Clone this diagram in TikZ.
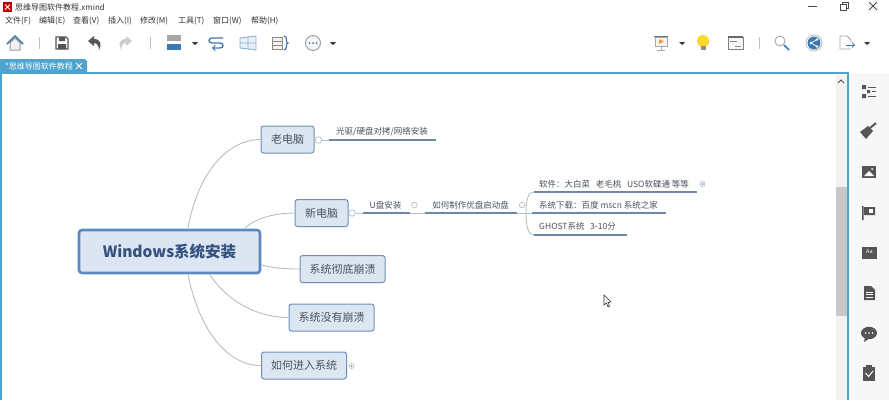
\documentclass[tikz,border=0pt]{standalone}
\usepackage{fontspec}
\setmainfont{Noto Sans CJK SC}
\usepackage{tikz}
\usetikzlibrary{shapes}
\usetikzlibrary{calc}
\definecolor{topic_fill}{HTML}{DCE6F3}
\definecolor{topic_line}{HTML}{6F8DB5}
\definecolor{main_line}{HTML}{5F87C0}
\definecolor{main_text}{HTML}{35527F}
\definecolor{text_grey}{HTML}{4A5260}
\definecolor{branch_line}{HTML}{B4BEC8}
\definecolor{under_line}{HTML}{6C88A8}
\definecolor{frame_blue}{HTML}{4FA3CC}
\definecolor{icon_grey}{HTML}{555555}
\definecolor{icon_blue}{HTML}{3E78B2}
\tikzset{ main_topic/.style = {rectangle, rounded corners=3pt, draw=main_line, line width=2.6pt, fill=topic_fill, text=main_text, font=\fontsize{15.5}{18}\selectfont\bfseries, minimum width=181pt, minimum height=43pt, inner sep=0pt} }
\tikzset{ topic/.style = {rectangle, rounded corners=2.5pt, draw=topic_line, line width=1pt, fill=topic_fill, text=text_grey, font=\fontsize{11}{13}\selectfont, minimum height=27pt, inner sep=0pt} }
\tikzset{ leaf/.style = {text=text_grey, font=\fontsize{8.5}{10}\selectfont, inner sep=0pt} }
\tikzset{ menu_item/.style = {text=black!80, font=\fontsize{8}{10}\selectfont, inner sep=0pt} }
\tikzset{ fold/.style = {circle, draw=branch_line, fill=white, line width=0.7pt, minimum size=6.5pt, inner sep=0pt} }
\tikzset{ branch/.style = {draw=branch_line, line width=0.9pt} }
\tikzset{ under/.style = {draw=under_line, line width=1.5pt} }
\tikzset{ drop_tip/.style = {fill=black!80, draw=none} }
\tikzset{ side_icon/.style = {fill=icon_grey, draw=none} }
\begin{document}
\begin{tikzpicture}[x=1pt,y=-1pt]
\useasboundingbox (0,0) rectangle (889,400);
\fill[white] (0,0) rectangle (889,400);
\fill[black!3] (849,73) rectangle (889,400);
\fill[black!5] (836,75) rectangle (847,400);
\fill[black!22] (836,187) rectangle (847,316);
\fill[frame_blue] (0,59) -- (85,59) -- (87,61) -- (87,72) -- (0,72) -- cycle;
\draw[frame_blue, line width=1.5pt] (1,400) -- (1,73) -- (848,73) -- (848,400);
\draw[black!70, line width=0.8pt] (838,83) -- (841,80) -- (844,83);

\fill[red!75!black] (3,2) rectangle (12,12);
\draw[white, line width=1pt] (5,4.5) -- (10,9.5) (5,9.5) -- (10,4.5);
\node[menu_item, anchor=west] (file_title) at (15,7) {思维导图软件教程.xmind};
\node[menu_item, anchor=west] (menu_file) at (5,21) {文件(F)};
\node[menu_item, anchor=west] (menu_edit) at (39,21) {编辑(E)};
\node[menu_item, anchor=west] (menu_view) at (73,21) {查看(V)};
\node[menu_item, anchor=west] (menu_insert) at (108,21) {插入(I)};
\node[menu_item, anchor=west] (menu_modify) at (140,21) {修改(M)};
\node[menu_item, anchor=west] (menu_tools) at (178,21) {工具(T)};
\node[menu_item, anchor=west] (menu_window) at (213,21) {窗口(W)};
\node[menu_item, anchor=west] (menu_help) at (251,21) {帮助(H)};
\node[menu_item, anchor=west, text=white] (tab_title) at (5,66) {*思维导图软件教程};
\draw[white, line width=1pt] (76,63) -- (82,69) (76,69) -- (82,63);

\draw[black!70, line width=1pt] (808,6) -- (817,6);
\draw[black!70, line width=0.8pt] (840,4) rectangle (846,10) (842,4) -- (842,2.5) -- (848,2.5) -- (848,8) -- (846,8);
\draw[black!70, line width=0.8pt] (869,2) -- (877,10) (869,10) -- (877,2);

\draw[icon_blue, line width=1.6pt, line join=round] (7,44) -- (15,36) -- (23,44);
\draw[black!40, line width=1pt, fill=black!5] (10,43) -- (10,50) -- (20,50) -- (20,43) -- (15,38) -- cycle;
\draw[black!25, line width=1pt] (39,37) -- (39,49);
\draw[icon_grey, line width=1.3pt] (56,37) -- (66,37) -- (68,39) -- (68,49) -- (56,49) -- cycle;
\fill[icon_grey] (59,37) rectangle (65,41) (58,44) rectangle (66,49);
\fill[icon_grey] (88,41) -- (94,36) -- (94,39) .. controls (101,39) and (102,45) .. (99,50) .. controls (99,46) and (97,43) .. (94,43) -- (94,46) -- cycle;
\fill[black!20] (132,41) -- (126,36) -- (126,39) .. controls (119,39) and (118,45) .. (121,50) .. controls (121,46) and (123,43) .. (126,43) -- (126,46) -- cycle;
\draw[black!25, line width=1pt] (150,37) -- (150,49);
\fill[black!35] (167,35) rectangle (181,41);
\fill[icon_blue] (167,44) rectangle (181,50);
\fill[drop_tip] (192,42) -- (198,42) -- (195,45) -- cycle;
\draw[icon_blue, line width=1.3pt, ->] (223,38) -- (212,38) .. controls (208,38) and (208,43) .. (212,43) -- (220,43) .. controls (224,43) and (224,48) .. (220,48) -- (212,48);
\draw[icon_blue!60, line width=0.9pt, fill=icon_blue!12] (240,38) -- (256,36) -- (256,50) -- (240,48) -- cycle (240,43) -- (256,43) (248,37) -- (248,49);
\draw[black!45, line width=0.9pt, fill=black!5] (272,37) rectangle (282,41) (272,41) rectangle (282,45) (272,45) rectangle (282,49);
\draw[icon_blue, line width=1.2pt] (284,36) .. controls (288,36) and (285,43) .. (288,43) .. controls (285,43) and (288,50) .. (284,50);
\draw[black!40, line width=0.9pt, fill=black!4] (313,43) circle (7.5);
\foreach \px in {309.5,313,316.5} { \fill[icon_blue] (\px,43) circle (1); }
\fill[drop_tip] (330,42) -- (336,42) -- (333,45) -- cycle;

\draw[black!55, line width=1.2pt] (654,36.5) -- (668,36.5);
\draw[black!35, line width=0.8pt, fill=black!3] (655,37) rectangle (667,46) (661,46) -- (661,50) (657,50) -- (665,50);
\fill[orange!80] (659,39) -- (664,41.5) -- (659,44) -- cycle;
\fill[drop_tip] (679,42) -- (685,42) -- (682,45) -- cycle;
\fill[yellow!70!orange!85!white] (703,41) circle (6);
\fill[black!45] (700.5,46) rectangle (705.5,50);
\draw[black!50, line width=0.8pt, fill=black!3] (728,37) rectangle (743,49);
\draw[black!60, line width=1.2pt] (728,37) -- (743,37);
\draw[black!45, line width=0.8pt] (730,41) -- (737,41) (735,46) -- (741,46);
\draw[black!25, line width=1pt] (759,37) -- (759,49);
\draw[black!35, line width=0.9pt] (780,41) circle (5);
\draw[icon_blue, line width=1.6pt] (784,45) -- (789,50);
\draw[black!25, line width=0.8pt] (814,43) circle (8);
\fill[icon_blue] (814,43) circle (6.5);
\draw[white, line width=0.7pt] (817,39.5) -- (811,43) -- (817,46.5);
\fill[white] (817,39.5) circle (1.3) (811,43) circle (1.3) (817,46.5) circle (1.3);
\draw[black!35, line width=0.8pt] (851,49) -- (840,49) -- (840,36) -- (847,36) -- (851,40) -- (851,42);
\draw[icon_blue, line width=1pt, ->] (846,45) -- (855,45);
\fill[drop_tip] (864,42) -- (870,42) -- (867,45) -- cycle;

\fill[side_icon] (862,85) rectangle (866,89) (867,90) rectangle (870,93) (862,94) rectangle (866,98);
\draw[icon_grey, line width=1pt] (868,87) -- (876,87) (872,91.5) -- (876,91.5) (868,96) -- (876,96);
\fill[side_icon] (860,132) -- (868,126) -- (873,131) -- (866,139) -- cycle;
\draw[icon_grey, line width=2pt] (870,128) -- (876,123);
\fill[side_icon] (862,166) rectangle (876,178);
\fill[white] (864,176) -- (869,171) -- (872,174) -- (874,176) -- cycle;
\fill[white] (872,169) circle (1);
\fill[side_icon] (862,206) rectangle (863.5,220) (864,207) rectangle (875,215);
\fill[white] (869,209) rectangle (873,213);
\fill[side_icon] (862,247) rectangle (877,259);
\node[text=white, font=\fontsize{5.5}{6}\selectfont, inner sep=0pt] (side_font) at (869.5,252) {Aa};
\fill[side_icon] (864,286) -- (871,286) -- (875,290) -- (875,300) -- (864,300) -- cycle;
\draw[white, line width=0.6pt] (866,292) -- (873,292) (866,294.5) -- (873,294.5) (866,297) -- (873,297);
\fill[side_icon] (869,333) ellipse (8 and 6.2);
\fill[side_icon] (865,337) -- (864,342) -- (870,338) -- cycle;
\foreach \px in {865.5,869,872.5} { \fill[white] (\px,333) circle (0.9); }
\fill[side_icon] (863,367) rectangle (875,381);
\fill[side_icon] (866,365) rectangle (872,368);
\draw[white, line width=1pt] (865.5,373) -- (868.5,376.5) -- (873,371);

\node[main_topic] (main) at (169.5,251.5) {Windows系统安装};
\node[topic, minimum width=53pt] (old_pc) at (287.5,139.5) {老电脑};
\node[topic, minimum width=53pt] (new_pc) at (321.5,213) {新电脑};
\node[topic, minimum width=85pt] (crash) at (342.5,269) {系统彻底崩溃};
\node[topic, minimum width=85pt] (no_crash) at (331.5,317.5) {系统没有崩溃};
\node[topic, minimum width=85pt] (enter) at (304,365.5) {如何进入系统};

\node[fold] (old_fold) at (318.5,140) {};
\node[fold] (new_fold) at (352,213) {};
\node[fold, minimum size=5pt] (enter_fold) at (351.5,366) {};
\fill[topic_line] (enter_fold) circle (1);
\node[fold, minimum size=5.5pt] (usb_fold) at (414.5,205) {};
\node[fold, minimum size=5.5pt] (make_fold) at (522,205) {};
\node[fold, minimum size=5pt] (soft_fold) at (702.5,184) {};
\fill[topic_line] (soft_fold) circle (1);

\node[leaf] (drives) at (382,131.5) {光驱/硬盘对拷/网络安装};
\node[leaf] (usb) at (385.5,205) {U盘安装};
\node[leaf] (make) at (470.5,205) {如何制作优盘启动盘};
\node[leaf, anchor=west] (soft) at (539,184) {软件：大白菜\ \ \ 老毛桃\ \ \ USO软碟通 等等};
\node[leaf, anchor=west] (down) at (539,205) {系统下载：百度 mscn 系统之家};
\node[leaf, anchor=west] (ghost) at (539,226) {GHOST系统\ \ \ 3-10分};

\coordinate (main_a) at (188,228);
\coordinate (main_b) at (245,228);
\coordinate (main_c) at (262,265);
\coordinate (main_d) at (210,275);
\coordinate (main_e) at (188,275);
\coordinate (drives_a) at (329,140);
\coordinate (drives_b) at (436,140);
\coordinate (usb_a) at (363,213);
\coordinate (usb_b) at (410,213);
\coordinate (make_a) at (425,213);
\coordinate (make_b) at (517,213);
\coordinate (soft_a) at (534,192);
\coordinate (soft_b) at (697,192);
\coordinate (down_a) at (532,213);
\coordinate (down_b) at (666,213);
\coordinate (ghost_a) at (534,235);
\coordinate (ghost_b) at (627,235);
\coordinate (bracket) at (526,213);

\draw[branch] (main_a) .. controls (198,172) and (228,139.5) .. (old_pc.west);
\draw[branch] (main_b) .. controls (256,218) and (275,213) .. (new_pc.west);
\draw[branch] (main_c) .. controls (272,268) and (285,269) .. (crash.west);
\draw[branch] (main_d) .. controls (228,302) and (258,317.5) .. (no_crash.west);
\draw[branch] (main_e) .. controls (200,332) and (228,365.5) .. (enter.west);

\draw[branch] (old_fold) to (drives_a);
\draw[under] (drives_a) to (drives_b);
\draw[branch] (new_fold) to (usb_a);
\draw[under] (usb_a) to (usb_b);
\draw[branch] (usb_b) to (make_a);
\draw[under] (make_a) to (make_b);
\draw[branch] (make_b) to (bracket);
\draw[branch] (bracket) .. controls (526,200) and (528,192) .. (soft_a);
\draw[branch] (bracket) to (down_a);
\draw[branch] (bracket) .. controls (526,226) and (528,235) .. (ghost_a);
\draw[under] (soft_a) to (soft_b);
\draw[under] (down_a) to (down_b);
\draw[under] (ghost_a) to (ghost_b);

\draw[black!80, fill=white, line width=0.6pt] (604,295) -- (604,305) -- (606.5,303) -- (608,307) -- (609.5,306) -- (608,302.5) -- (611,302) -- cycle;
\end{tikzpicture}
\end{document}
